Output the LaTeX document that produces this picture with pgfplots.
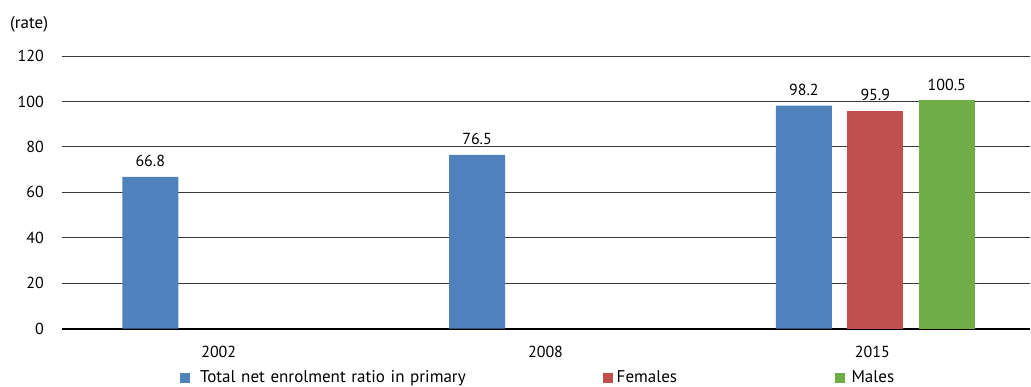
\documentclass[border=0pt]{standalone}
\usepackage{fontspec}
\setmainfont{PT Sans}
\usepackage{pgfplots}
\pgfplotsset{compat=1.18}

\definecolor{serBlue}{HTML}{4F81BD}
\definecolor{serRed}{HTML}{C0504D}
\definecolor{serGreen}{HTML}{70AD47}
\definecolor{gridGray}{HTML}{3A3A3A}

\newcommand{\chartfont}{\fontsize{16}{19}\selectfont}
\newcommand{\legendfont}{\fontsize{17}{20}\selectfont}

\begin{document}
\begin{tikzpicture}
\begin{axis}[
  scale only axis,
  width=969pt, height=273pt,
  xmin=-0.489, xmax=2.474,
  ymin=0, ymax=120,
  ybar, bar width=56pt,
  xtick={0,1,2},
  xticklabels={2002,2008,2015},
  ytick={0,20,...,120},
  major tick length=0pt,
  tick style={draw=none},
  ymajorgrids,
  grid style={color=gridGray, line width=0.9pt},
  axis x line*=bottom,
  axis y line*=left,
  y axis line style={draw=none},
  x axis line style={black, line width=1.6pt, -},
  tick label style={font=\chartfont},
  /pgf/number format/assume math mode=true,
  yticklabel style={anchor=east, inner sep=0pt, xshift=-18pt},
  xticklabel style={anchor=base, inner sep=0pt, yshift=-29pt, xshift=-3pt},
  nodes near coords,
  nodes near coords style={font=\chartfont, anchor=base, inner sep=0pt, yshift=10pt,
    /pgf/number format/.cd, fixed, precision=1, fixed zerofill, assume math mode=true},
  legend columns=3,
  legend style={draw=none, fill=none, inner sep=0pt, font=\legendfont,
    at={(axis description cs:0.1218,-0.1795)}, anchor=west,
    /tikz/column 1/.append style={column sep=8pt},
    /tikz/column 3/.append style={column sep=2pt},
    /tikz/column 5/.append style={column sep=5pt}},
  legend image code/.code={\fill[#1] (0pt,-5pt) rectangle (10pt,5pt);},
]
% total ratio in all three years, the 2015 split by sex beside it
\addplot[fill=serBlue, draw=none, bar shift=-71.5pt] coordinates {(0,66.8) (1,76.5) (2,98.2)};
\addlegendentry[text width=401pt]{Total net enrolment ratio in primary}
\addplot[fill=serRed, draw=none, bar shift=0pt] coordinates {(2,95.9)};
\addlegendentry[text width=216pt]{Females}
\addplot[fill=serGreen, draw=none, bar shift=71.5pt] coordinates {(2,100.5)};
\addlegendentry{Males}
\end{axis}
\node[anchor=base west, inner sep=0pt, font=\legendfont] at ([xshift=-52pt, yshift=27pt]current axis.north west) {(rate)};
\path ([xshift=-62pt, yshift=-57pt]current axis.south west) rectangle ([yshift=56pt]current axis.north east);
\end{tikzpicture}
\end{document}
